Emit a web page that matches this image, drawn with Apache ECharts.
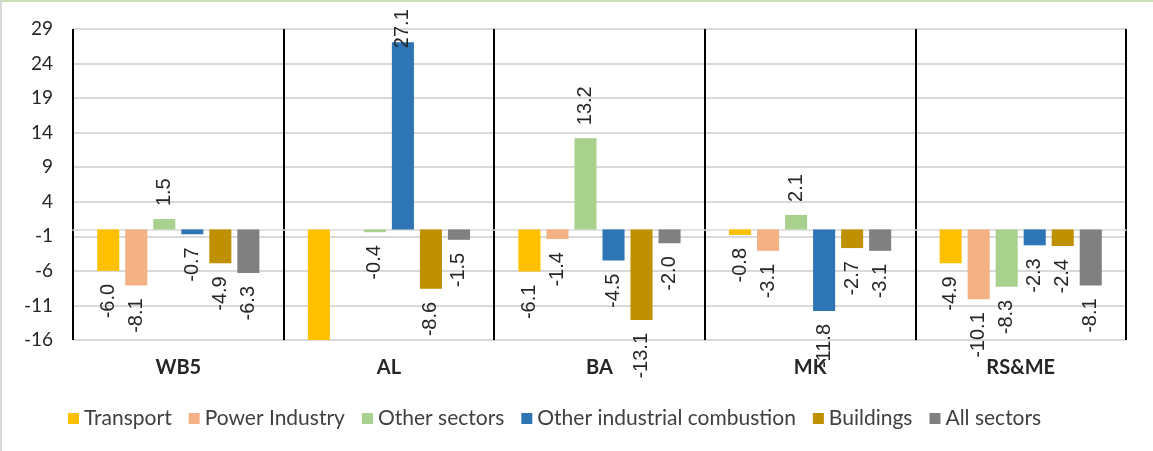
<!DOCTYPE html>
<html>
<head>
<meta charset="utf-8">
<script src="https://cdn.jsdelivr.net/npm/echarts@6/dist/echarts.min.js"></script>
<style>
html,body{margin:0;padding:0;background:#fff;}
#c{width:1153px;height:451px;}
</style>
</head>
<body>
<div id="c"></div>
<script>
const categories = ['WB5', 'AL', 'BA', 'MK', 'RS&ME'];
const seriesNames = ['Transport', 'Power Industry', 'Other sectors', 'Other industrial combustion', 'Buildings', 'All sectors'];
const transport = [-6.0, -19.0, -6.1, -0.8, -4.9];
const powerIndustry = [-8.1, null, -1.4, -3.1, -10.1];
const otherSectors = [1.5, -0.4, 13.2, 2.1, -8.3];
const otherIndustrial = [-0.7, 27.1, -4.5, -11.8, -2.3];
const buildings = [-4.9, -8.6, -13.1, -2.7, -2.4];
const allSectors = [-6.3, -1.5, -2.0, -3.1, -8.1];
const yTickLabels = ['-16', '-11', '-6', '-1', '4', '9', '14', '19', '24', '29'];
const colors = ['#FFC000', '#F4B183', '#A9D18E', '#2E75B6', '#BF9000', '#808080'];

const Y_MIN = -16, Y_MAX = 29, Y_STEP = 5;
const allValues = [transport, powerIndustry, otherSectors, otherIndustrial, buildings, allSectors];

function makeData(arr) {
  return arr.map(v => {
    if (v === null) return null;
    const inside = v >= Y_MIN && v <= Y_MAX;
    if (v >= 0) {
      // keep labels of tall bars inside the canvas, as the original does
      const nearTop = v > Y_MAX - 5;
      return { value: v, label: { show: inside, position: 'top', align: 'left', distance: nearTop ? -6 : 13 } };
    }
    return { value: v, label: { show: inside, position: 'bottom', align: 'right', distance: 13 } };
  });
}

const chart = echarts.init(document.getElementById('c'));
chart.setOption({
  animation: false,
  color: colors,
  graphic: [
    { type: 'rect', shape: { x: 0, y: 0, width: 1153, height: 2 }, style: { fill: '#c9dfb5' } },
    { type: 'rect', shape: { x: 0, y: 0, width: 2, height: 451 }, style: { fill: '#d9d9d9' } }
  ],
  grid: { left: 73, right: 27, top: 29, bottom: 111 },
  legend: {
    top: 403,
    left: 63,
    itemWidth: 11,
    itemHeight: 11,
    itemGap: 17,
    icon: 'rect',
    textStyle: { fontFamily: 'Lato', fontSize: 21, color: '#404040' },
    data: seriesNames
  },
  xAxis: [
    {
      type: 'category',
      data: categories,
      axisLine: { show: true, onZero: true, lineStyle: { color: '#d9d9d9', width: 1.5 } },
      axisTick: { show: false },
      axisLabel: { show: false },
      splitLine: { show: false }
    },
    {
      type: 'category',
      data: categories,
      position: 'bottom',
      axisLine: { show: false, onZero: false },
      axisTick: { show: false },
      axisLabel: { show: true, margin: 18, fontFamily: 'Lato', fontWeight: 'bold', fontSize: 20, color: '#262626' },
      splitLine: { show: true, lineStyle: { color: '#000', width: 2 } }
    }
  ],
  yAxis: [
    {
      type: 'value',
      min: Y_MIN,
      max: Y_MAX,
      axisLabel: { show: false },
      axisLine: { show: false },
      axisTick: { show: false },
      splitLine: { show: false }
    },
    {
      type: 'value',
      position: 'left',
      min: 0,
      max: Y_MAX - Y_MIN,
      interval: Y_STEP,
      axisLine: { show: false },
      axisTick: { show: false },
      axisLabel: {
        margin: 20,
        fontFamily: 'Lato',
        fontSize: 19,
        color: '#262626',
        formatter: v => yTickLabels[Math.round(v / Y_STEP)]
      },
      splitLine: { show: true, lineStyle: { color: '#d9d9d9', width: 2 } }
    }
  ],
  series: seriesNames.map((name, i) => ({
    name: name,
    type: 'bar',
    xAxisIndex: 0,
    yAxisIndex: 0,
    barGap: '27%',
    barCategoryGap: '23%',
    clip: true,
    z: 3,
    itemStyle: { color: colors[i] },
    label: {
      show: true,
      rotate: 90,
      verticalAlign: 'middle',
      fontFamily: 'Liberation Sans',
      fontSize: 20,
      color: '#262626',
      formatter: p => p.value.toFixed(1)
    },
    data: makeData(allValues[i])
  }))
});
</script>
</body>
</html>
